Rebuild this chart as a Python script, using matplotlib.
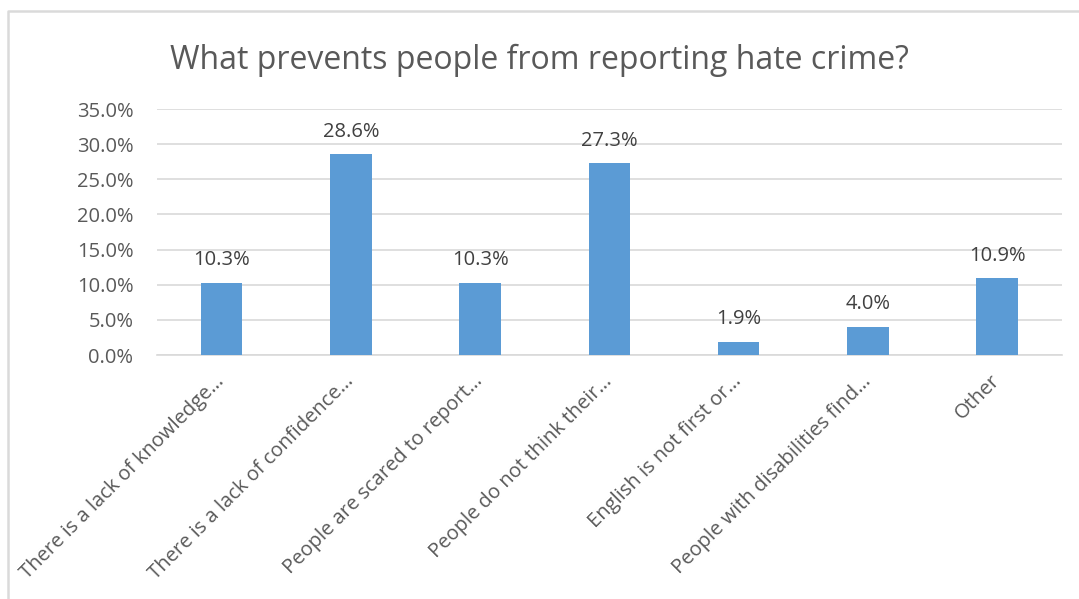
import matplotlib.pyplot as plt
from matplotlib.lines import Line2D
from matplotlib.transforms import ScaledTranslation
from matplotlib.ticker import PercentFormatter

plt.rcParams['font.family'] = ['Open Sans', 'DejaVu Sans']

categories = [
    "There is a lack of knowledge\u2026",
    "There is a lack of confidence\u2026",
    "People are scared to report\u2026",
    "People do not think their\u2026",
    "English is not first or\u2026",
    "People with disabilities find\u2026",
    "Other",
]
values = [10.3, 28.6, 10.3, 27.3, 1.9, 4.0, 10.9]
y_ticks = [0, 5, 10, 15, 20, 25, 30, 35]

text_color = '#595959'
bar_color = '#5B9BD5'
grid_color = '#D9D9D9'

fig = plt.figure(figsize=(10.79, 5.99), dpi=100)
ax = fig.add_axes([0.1455, 0.4073, 0.8385, 0.4107])

# chart border (only left and top are visible in the screenshot)
fig.lines.append(Line2D([0.0075, 0.0075, 1.0], [0.0, 0.982, 0.982],
                        transform=fig.transFigure, color='#DADADA', linewidth=1.8))

x = range(len(categories))
ax.bar(x, values, width=0.32, color=bar_color, zorder=3)

for xi, v in zip(x, values):
    ax.annotate(f"{v:.1f}%", (xi, v), xytext=(0, 9), textcoords='offset points',
                ha='center', va='bottom', fontsize=14.5, color='#404040')

ax.set_xlim(-0.5, len(categories) - 0.5)
ax.set_ylim(0, 35)
ax.set_yticks(y_ticks)
ax.yaxis.set_major_formatter(PercentFormatter(decimals=1))
ax.grid(axis='y', color=grid_color, linewidth=1.2, zorder=0)
for s in ['top', 'right', 'left']:
    ax.spines[s].set_visible(False)
ax.spines['bottom'].set_color(grid_color)
ax.spines['bottom'].set_linewidth(1.2)
ax.tick_params(axis='both', length=0, colors=text_color, labelsize=14.5)
ax.tick_params(axis='y', pad=17)

ax.set_xticks(list(x))
ax.set_xticklabels(categories, rotation=45, ha='right', rotation_mode='anchor',
                   va='top', color=text_color, fontsize=14.5)
ax.tick_params(axis='x', pad=8)
shift = ScaledTranslation(-7 / 100, -5 / 100, fig.dpi_scale_trans)
for lbl in ax.get_xticklabels():
    lbl.set_transform(lbl.get_transform() + shift)

fig.text(0.5, 0.9, "What prevents people from reporting hate crime?",
         ha='center', va='center', fontsize=23, color=text_color)

fig.savefig('out.png', dpi=100)
